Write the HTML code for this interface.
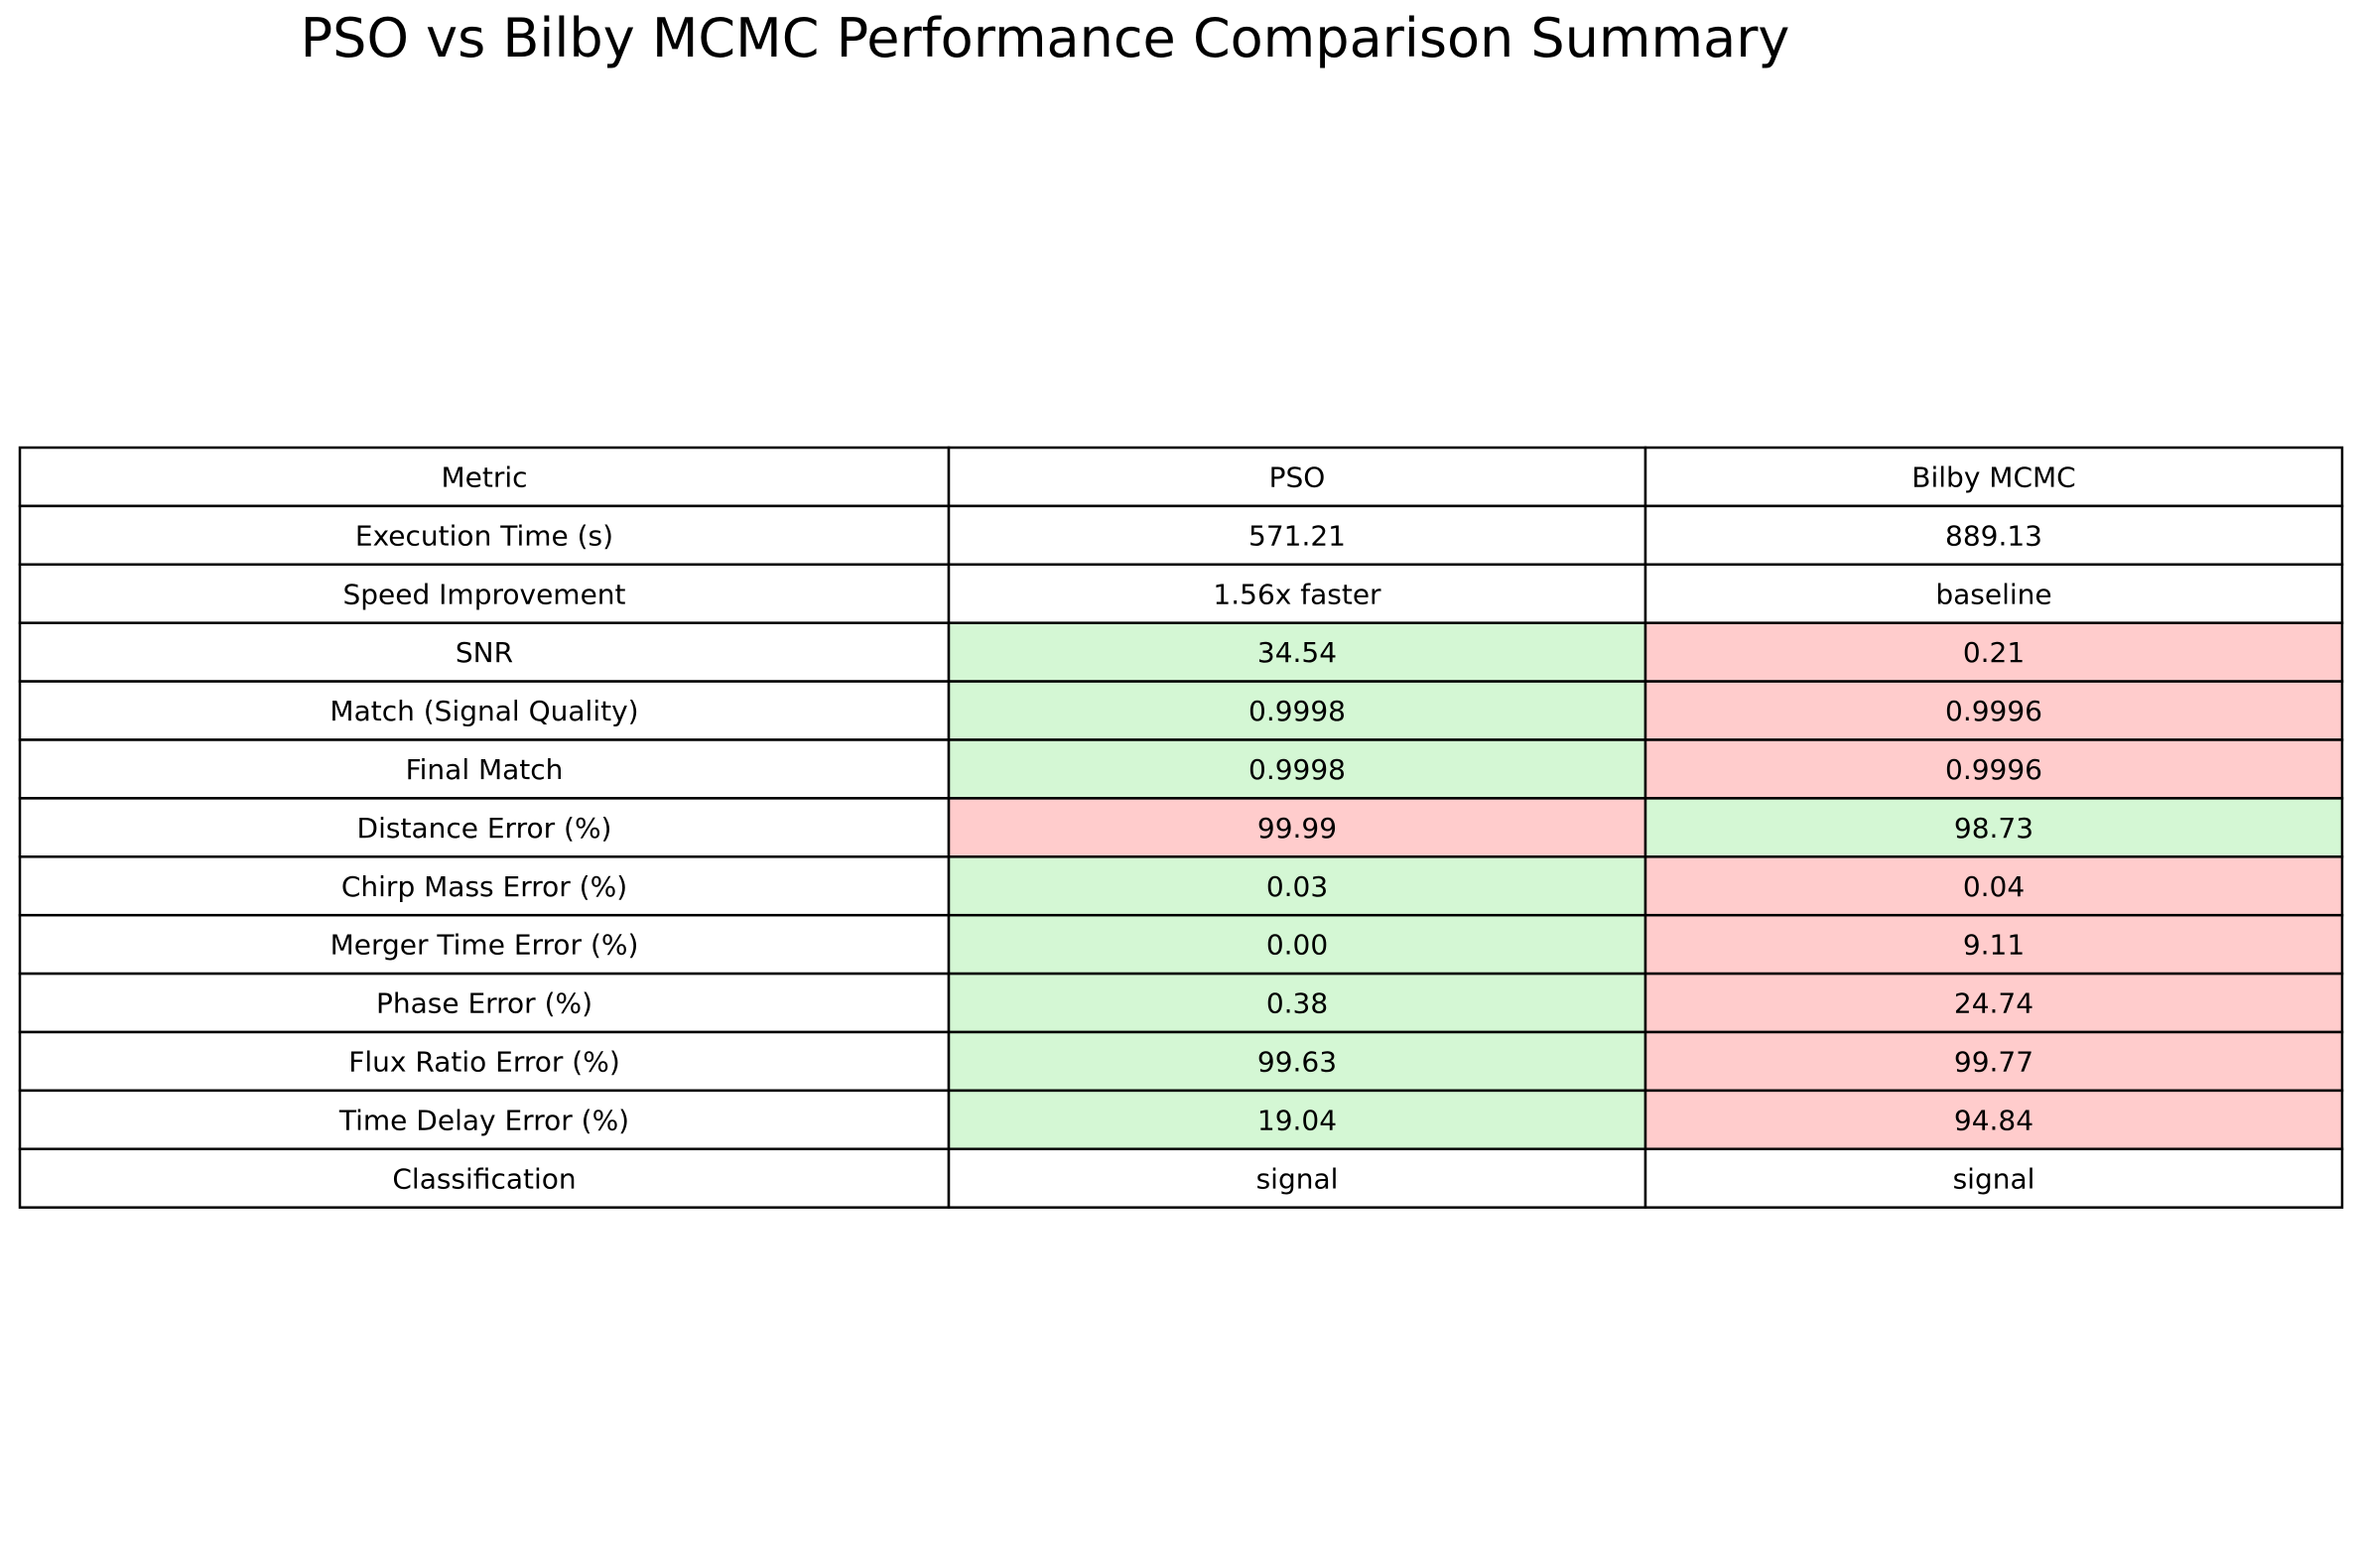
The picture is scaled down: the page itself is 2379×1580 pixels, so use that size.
<!DOCTYPE html>
<html><head><meta charset="utf-8"><style>
html,body{margin:0;padding:0;background:#fff}
svg{display:block}
text{font-family:"DejaVu Sans","Liberation Sans",sans-serif;fill:#000}
</style></head><body>
<svg id="chart" width="2379" height="1580" viewBox="0 0 2379 1580" xmlns="http://www.w3.org/2000/svg">
<rect width="2379" height="1580" fill="#fff"/>
<text x="1053" y="57" font-size="54" text-anchor="middle">PSO vs Bilby MCMC Performance Comparison Summary</text>
<g id="tbl"></g>
</svg>
<script>
const headers = ["Metric","PSO","Bilby MCMC"];
const metrics = ["Execution Time (s)","Speed Improvement","SNR","Match (Signal Quality)","Final Match","Distance Error (%)","Chirp Mass Error (%)","Merger Time Error (%)","Phase Error (%)","Flux Ratio Error (%)","Time Delay Error (%)","Classification"];
const psoValues = ["571.21","1.56x faster","34.54","0.9998","0.9998","99.99","0.03","0.00","0.38","99.63","19.04","signal"];
const bilbyValues = ["889.13","baseline","0.21","0.9996","0.9996","98.73","0.04","9.11","24.74","99.77","94.84","signal"];
// winner per row: "pso", "bilby", or "" (no highlight)
const winners = ["","","pso","pso","pso","bilby","pso","pso","pso","pso","pso",""];

const NS="http://www.w3.org/2000/svg";
const g=document.getElementById('tbl');
const colX=[20,956,1658,2360];
const top0=451, rowH=58.9;
const GREEN="#d4f7d4", RED="#ffcccc";
function cell(r,c,text,fill,name){
  const y=top0+r*rowH;
  const rect=document.createElementNS(NS,'rect');
  rect.setAttribute('x',colX[c]);rect.setAttribute('y',y);
  rect.setAttribute('width',colX[c+1]-colX[c]);rect.setAttribute('height',rowH);
  rect.setAttribute('fill',fill);rect.setAttribute('stroke','#000');rect.setAttribute('stroke-width','2.5');
  
  
  g.appendChild(rect);
  const t=document.createElementNS(NS,'text');
  t.setAttribute('x',(colX[c]+colX[c+1])/2);t.setAttribute('y',y+rowH/2+10);
  t.setAttribute('font-size','28');t.setAttribute('text-anchor','middle');
  t.textContent=text;
  
  
  g.appendChild(t);
}
headers.forEach((h,c)=>cell(0,c,h,'#fff','header-'+c));
metrics.forEach((m,i)=>{
  const w=winners[i];
  const pf = w==="pso"?GREEN:(w==="bilby"?RED:'#fff');
  const bf = w==="bilby"?GREEN:(w==="pso"?RED:'#fff');
  cell(i+1,0,m,'#fff','metric-'+i);
  cell(i+1,1,psoValues[i],pf,'pso-value-'+i);
  cell(i+1,2,bilbyValues[i],bf,'bilby-value-'+i);
});
</script>
</body></html>
